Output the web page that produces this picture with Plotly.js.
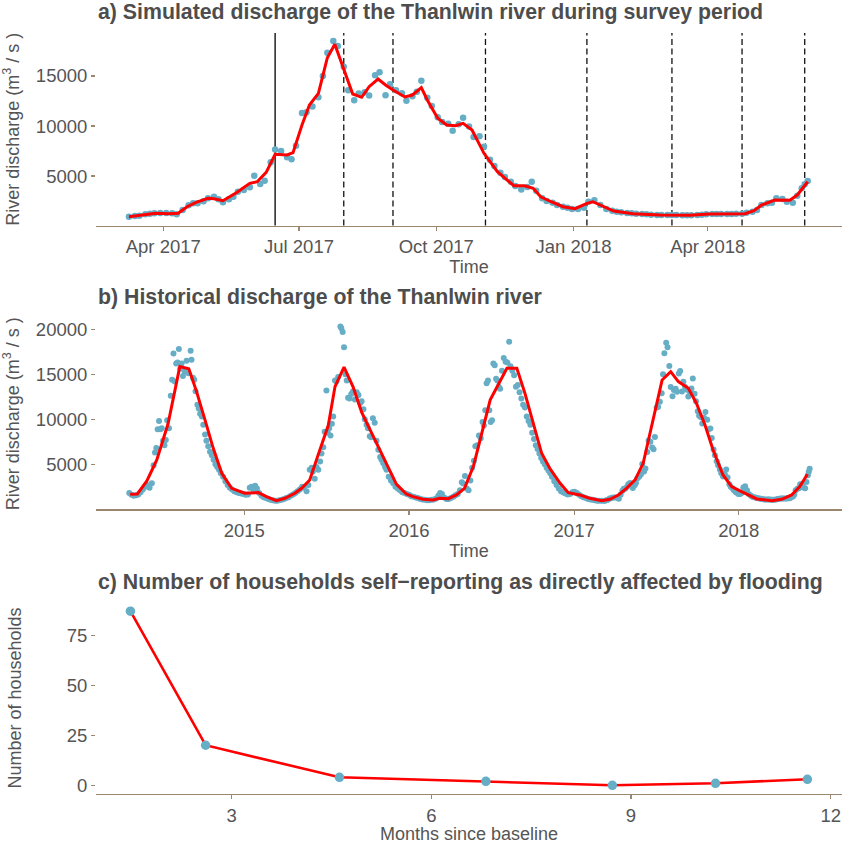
<!DOCTYPE html>
<html><head><meta charset="utf-8">
<script src="https://cdn.plot.ly/plotly-3.0.1.min.js"></script>
<style>html,body{margin:0;padding:0;background:#fff}#chart{width:843px;height:844px}</style>
</head><body><div id="chart"></div>
<script>
// ---- Panel a: simulated discharge during survey period ----
const simDates = ['2017-03-09','2017-03-13','2017-03-16','2017-03-20','2017-03-23','2017-03-26','2017-03-30','2017-04-03','2017-04-07','2017-04-10',
'2017-04-14','2017-04-18','2017-04-21','2017-04-24','2017-04-28','2017-05-01','2017-05-05','2017-05-08','2017-05-11','2017-05-15',
'2017-05-18','2017-05-21','2017-05-25','2017-05-29','2017-06-01','2017-06-05','2017-06-08','2017-06-12','2017-06-15','2017-06-19',
'2017-06-23','2017-06-26','2017-06-29','2017-07-03','2017-07-06','2017-07-10','2017-07-14','2017-07-17','2017-07-20','2017-07-24',
'2017-07-27','2017-07-31','2017-08-03','2017-08-07','2017-08-10','2017-08-14','2017-08-17','2017-08-21','2017-08-24','2017-08-28',
'2017-08-31','2017-09-04','2017-09-08','2017-09-11','2017-09-15','2017-09-18','2017-09-21','2017-09-25','2017-09-28','2017-10-02',
'2017-10-05','2017-10-09','2017-10-12','2017-10-16','2017-10-19','2017-10-23','2017-10-26','2017-10-30','2017-11-02','2017-11-06',
'2017-11-09','2017-11-13','2017-11-16','2017-11-20','2017-11-23','2017-11-27','2017-12-01','2017-12-04','2017-12-07','2017-12-11',
'2017-12-14','2017-12-18','2017-12-21','2017-12-25','2017-12-28','2017-12-31','2018-01-04','2018-01-08','2018-01-11','2018-01-15',
'2018-01-19','2018-01-23','2018-01-27','2018-01-30','2018-02-02','2018-02-06','2018-02-09','2018-02-12','2018-02-16','2018-02-19',
'2018-02-22','2018-02-26','2018-03-01','2018-03-05','2018-03-08','2018-03-11','2018-03-15','2018-03-18','2018-03-21','2018-03-25',
'2018-03-28','2018-03-31','2018-04-04','2018-04-07','2018-04-10','2018-04-14','2018-04-17','2018-04-20','2018-04-24','2018-04-27',
'2018-05-01','2018-05-04','2018-05-07','2018-05-11','2018-05-14','2018-05-17','2018-05-21','2018-05-24','2018-05-28','2018-05-31',
'2018-06-03','2018-06-05','2018-06-07'];
const simValues = [930,1000,1030,1170,1230,1270,1300,1300,1270,1170,
1600,2070,2270,2270,2470,2770,2930,2670,2370,2670,
2930,3430,3600,3870,5030,4200,4530,6370,7650,7500,
6870,6670,8030,11300,11370,11950,12880,15000,17320,18500,
18000,15930,13570,12570,13250,13380,13050,15080,15370,13080,
14170,13570,13270,12520,12980,13430,14530,12830,12000,10880,
10400,10230,9530,10180,10820,9950,8900,8970,7930,6630,
6000,5330,4900,4430,4000,3650,3900,4430,3530,2770,
2500,2330,2100,1930,1830,1700,1700,1830,2430,2570,
2100,1700,1530,1430,1370,1300,1270,1230,1200,1170,
1130,1100,1100,1100,1100,1100,1070,1070,1070,1100,
1130,1170,1200,1200,1200,1200,1200,1230,1230,1330,
1430,1600,2100,2270,2330,2770,2700,2430,2330,3030,
3770,4170,4500];
const simLineDates = ['2017-03-09','2017-03-20','2017-03-27','2017-04-05','2017-04-11','2017-04-17','2017-04-23','2017-05-01','2017-05-05','2017-05-11',
'2017-05-20','2017-05-29','2017-06-03','2017-06-09','2017-06-15','2017-06-23','2017-06-27','2017-07-03','2017-07-08','2017-07-14',
'2017-07-20','2017-07-25','2017-07-31','2017-08-06','2017-08-12','2017-08-17','2017-08-23','2017-08-28','2017-09-02','2017-09-10',
'2017-09-15','2017-09-21','2017-09-25','2017-10-02','2017-10-08','2017-10-14','2017-10-19','2017-10-25','2017-11-02','2017-11-11',
'2017-11-22','2017-11-29','2017-12-05','2017-12-10','2017-12-17','2017-12-25','2018-01-02','2018-01-10','2018-01-14','2018-01-22',
'2018-01-28','2018-02-10','2018-02-28','2018-03-20','2018-04-02','2018-04-26','2018-05-02','2018-05-07','2018-05-16','2018-05-26',
'2018-05-31','2018-06-07'];
const simLineValues = [930,1170,1270,1230,1270,1930,2370,2770,2730,2530,
3330,4270,4430,5370,7170,7100,7330,10100,12100,13270,
16830,18170,15670,13200,12870,13930,14700,14100,13600,12900,
13100,13830,12600,10770,10100,10030,10270,9600,7270,5430,
4030,4030,3770,2930,2430,1930,1730,2270,2430,1900,
1500,1230,1100,1070,1200,1230,1530,2100,2600,2570,
3100,4430];
const surveyStart = ['2017-06-15'];
const surveyDates = ['2017-07-31','2017-09-02','2017-11-03','2018-01-10','2018-03-08','2018-04-24','2018-06-05'];
const simTickVals = ['2017-04-01','2017-07-01','2017-10-01','2018-01-01','2018-04-01'];
const simTickText = ['Apr 2017','Jul 2017','Oct 2017','Jan 2018','Apr 2018'];

// ---- Panel b: historical discharge (before the simulated period) ----
const histDates = ['2014-04-21','2014-04-26','2014-05-01','2014-05-06','2014-05-11','2014-05-16','2014-05-21','2014-05-26','2014-05-31','2014-06-05',
'2014-06-10','2014-06-14','2014-06-17','2014-06-20','2014-06-23','2014-06-26','2014-06-29','2014-07-02','2014-07-05','2014-07-08',
'2014-07-11','2014-07-14','2014-07-18','2014-07-22','2014-07-25','2014-07-28','2014-07-31','2014-08-03','2014-08-06','2014-08-09',
'2014-08-12','2014-08-15','2014-08-18','2014-08-22','2014-08-26','2014-08-30','2014-09-04','2014-09-06','2014-09-09','2014-09-12',
'2014-09-15','2014-09-19','2014-09-22','2014-09-25','2014-09-29','2014-10-02','2014-10-06','2014-10-09','2014-10-13','2014-10-17',
'2014-10-21','2014-10-25','2014-10-29','2014-11-02','2014-11-06','2014-11-10','2014-11-15','2014-11-20','2014-11-25','2014-11-30',
'2014-12-05','2014-12-10','2014-12-15','2014-12-20','2014-12-25','2014-12-30',
'2015-01-04','2015-01-09','2015-01-13','2015-01-17','2015-01-21','2015-01-25','2015-01-29','2015-02-03','2015-02-08','2015-02-13',
'2015-02-18','2015-02-23','2015-02-28','2015-03-05','2015-03-10','2015-03-15','2015-03-20','2015-03-25','2015-03-30','2015-04-04',
'2015-04-09','2015-04-14','2015-04-19','2015-04-24','2015-04-29','2015-05-04','2015-05-09','2015-05-13','2015-05-19','2015-05-23',
'2015-05-26','2015-05-30','2015-06-02','2015-06-06','2015-06-10','2015-06-14','2015-06-18','2015-06-21','2015-06-25','2015-06-28',
'2015-07-02','2015-07-05','2015-07-08','2015-07-11','2015-07-14','2015-07-17','2015-07-21','2015-07-24','2015-07-28','2015-08-02',
'2015-08-04','2015-08-07','2015-08-10','2015-08-13','2015-08-16','2015-08-19','2015-08-22','2015-08-26','2015-08-30','2015-09-03',
'2015-09-07','2015-09-11','2015-09-15','2015-09-18','2015-09-22','2015-09-25','2015-09-29','2015-10-02','2015-10-06','2015-10-09',
'2015-10-13','2015-10-17','2015-10-21','2015-10-25','2015-10-29','2015-11-01','2015-11-05','2015-11-09','2015-11-12','2015-11-17',
'2015-11-22','2015-11-27','2015-12-02','2015-12-07','2015-12-12','2015-12-17','2015-12-22','2015-12-27',
'2016-01-01','2016-01-06','2016-01-11','2016-01-16','2016-01-21','2016-01-26','2016-01-31','2016-02-05','2016-02-10','2016-02-15',
'2016-02-20','2016-02-25','2016-03-01','2016-03-06','2016-03-10','2016-03-14','2016-03-19','2016-03-24','2016-03-29','2016-04-03',
'2016-04-08','2016-04-13','2016-04-18','2016-04-23','2016-04-27','2016-04-30','2016-05-04','2016-05-08','2016-05-12','2016-05-16',
'2016-05-20','2016-05-24','2016-05-27','2016-05-31','2016-06-04','2016-06-08','2016-06-12','2016-06-15','2016-06-18','2016-06-21',
'2016-06-24','2016-06-27','2016-06-30','2016-07-03','2016-07-06','2016-07-09','2016-07-12','2016-07-15','2016-07-18','2016-07-21',
'2016-07-25','2016-07-29','2016-08-02','2016-08-06','2016-08-10','2016-08-13','2016-08-17','2016-08-21','2016-08-25','2016-08-29',
'2016-09-02','2016-09-06','2016-09-10','2016-09-14','2016-09-18','2016-09-22','2016-09-26','2016-09-30','2016-10-04','2016-10-08',
'2016-10-12','2016-10-16','2016-10-20','2016-10-24','2016-10-28','2016-11-01','2016-11-05','2016-11-09','2016-11-13','2016-11-18',
'2016-11-23','2016-11-28','2016-12-03','2016-12-08','2016-12-13','2016-12-18','2016-12-23','2016-12-28',
'2017-01-02','2017-01-07','2017-01-12','2017-01-17','2017-01-22','2017-01-27','2017-02-01','2017-02-06','2017-02-11','2017-02-16',
'2017-02-21','2017-02-26','2017-03-03'];
const histValues = [1800,1600,1500,1550,1650,1900,2200,2500,2700,2400,
2900,4900,6300,6800,8900,9800,8900,9000,7600,7100,
7700,9900,9000,12600,14400,17300,14200,16200,16300,17800,
15600,16200,14800,15300,16500,15100,17600,16600,14600,14400,
13100,11600,11200,10600,10300,9400,8300,7600,7000,6400,
6000,5500,5000,4700,4400,4000,3600,3100,2700,2400,
2200,2000,1900,1800,1750,1700,
1600,1650,2400,2500,2200,2600,2300,1800,1500,1350,
1250,1150,1050,1000,950,950,1000,1050,1150,1250,
1350,1500,1650,1800,2000,2200,2500,2400,2000,2700,
4400,4600,4200,3400,4700,4400,5300,6200,6900,8600,
13200,8500,9000,8200,9500,10300,14300,14200,14700,20300,
20100,19700,18000,15000,14300,12400,12300,12800,13100,12200,
13000,12700,11800,12000,11100,10000,9400,9000,8100,8000,
10100,9600,7600,6600,5800,5500,5100,4700,4400,3600,
3200,2900,2500,2300,2100,1900,1800,1700,
1600,1450,1400,1300,1250,1150,1100,1050,1000,1000,
1050,1100,1200,1500,1800,1700,1300,1150,1150,1250,
1400,1550,1700,2100,3000,2850,3700,2300,2100,3200,
4600,5400,7000,7100,8200,7900,9700,9300,11000,14000,
14300,11000,9700,9900,16200,16000,14500,14300,13600,13400,
15400,16800,16400,16300,18600,15900,15400,14900,13600,13800,
13000,12300,11600,11300,10300,9800,9400,8500,7800,7100,
6700,6200,5700,5300,5000,4600,4300,4000,3600,3100,
2700,2300,2000,1850,1750,1650,1700,1900,
1950,1800,1600,1450,1350,1250,1150,1100,1050,1000,
950,950,950];
const histLineDates = ['2014-04-23','2014-05-09','2014-05-30','2014-06-21','2014-07-16','2014-08-11','2014-08-31','2014-09-17','2014-10-06','2014-10-24',
'2014-11-12','2014-12-04','2015-01-02','2015-02-01','2015-02-19','2015-03-13','2015-04-01','2015-04-23','2015-05-08','2015-05-26',
'2015-06-14','2015-07-06','2015-07-21','2015-08-10','2015-08-30','2015-09-18','2015-10-06','2015-10-24','2015-11-15','2015-12-04',
'2015-12-26','2016-01-10','2016-02-01','2016-02-23','2016-03-09','2016-03-28','2016-04-15','2016-05-03','2016-05-23','2016-06-29',
'2016-08-05','2016-08-27','2016-09-14','2016-10-21','2016-11-08','2016-12-01','2016-12-19','2017-01-14','2017-02-05','2017-03-03',
'2017-03-21','2017-04-09','2017-04-27','2017-05-16','2017-06-03','2017-06-25','2017-07-15','2017-08-03','2017-08-20','2017-09-11',
'2017-09-29','2017-10-18','2017-11-05','2017-11-27','2017-12-16','2018-01-07','2018-01-22','2018-02-10','2018-03-15','2018-04-06',
'2018-04-28','2018-05-16','2018-06-02'];
const histLineValues = [1670,1700,3150,5480,9500,15850,15600,13100,9900,6800,
4000,2330,1780,1850,1410,960,1220,1780,2330,3260,
6100,9300,13630,15800,13600,10800,8900,7000,4800,2800,
1700,1410,1110,1040,1220,1180,1590,2330,4810,12150,
15660,15660,12880,6220,4550,2890,1850,1590,1220,960,
1110,1590,2330,3260,5110,9930,14370,15290,14190,13450,
11780,9370,6590,3810,2520,1960,1590,1150,960,1110,
1590,2520,3890];
const histTickVals = ['2015-01-01','2016-01-01','2017-01-01','2018-01-01'];
const histTickText = ['2015','2016','2017','2018'];

// ---- Panel c: households affected by flooding ----
const monthsSinceBaseline = [1.48, 2.61, 4.62, 6.82, 8.72, 10.27, 11.65];
const households = [87, 20, 4, 2, 0, 1, 3];

const discTicks = [5000, 10000, 15000];
const discTickText = ['5000', '10000', '15000'];
const histTicks = [5000, 10000, 15000, 20000];
const histTickText2 = ['5000', '10000', '15000', '20000'];
const hhTicks = [0, 25, 50, 75];
const hhTickText = ['0', '25', '50', '75'];
const monthTicks = [3, 6, 9, 12];
const monthTickText = ['3', '6', '9', '12'];

// ---- styling ----
const FONT = 'Liberation Sans, Arial, Helvetica, sans-serif';
const DOT = '#66adc6';
const RED = '#ff0000';
const AXC = '#9b8670';
const TXT = '#555555';

const traces = [
  {x: simDates, y: simValues, type: 'scatter', mode: 'markers', xaxis: 'x', yaxis: 'y',
   marker: {color: DOT, size: 6.5, line: {width: 0}}},
  {x: simLineDates, y: simLineValues, type: 'scatter', mode: 'lines', xaxis: 'x', yaxis: 'y',
   line: {color: RED, width: 3}},
  {x: histDates.concat(simDates), y: histValues.concat(simValues), type: 'scatter', mode: 'markers', xaxis: 'x2', yaxis: 'y2',
   marker: {color: DOT, size: 6, line: {width: 0}}},
  {x: histLineDates, y: histLineValues, type: 'scatter', mode: 'lines', xaxis: 'x2', yaxis: 'y2',
   line: {color: RED, width: 3}},
  {x: monthsSinceBaseline, y: households, type: 'scatter', mode: 'lines', xaxis: 'x3', yaxis: 'y3',
   line: {color: RED, width: 2.6}},
  {x: monthsSinceBaseline, y: households, type: 'scatter', mode: 'markers', xaxis: 'x3', yaxis: 'y3',
   marker: {color: DOT, size: 9.5, line: {width: 0}}}
];

const tickFont = {family: FONT, size: 18.5, color: TXT};
const axTitleFont = {family: FONT, size: 18, color: TXT};

function xAxis(extra) {
  return Object.assign({
    showline: true, linecolor: AXC, linewidth: 1.3, showgrid: false, zeroline: false,
    ticks: 'outside', ticklen: 4, tickwidth: 1.1, tickcolor: AXC, tickfont: tickFont,
    tickmode: 'array', fixedrange: true
  }, extra);
}
function yAxis(extra) {
  return Object.assign({
    showline: false, showgrid: false, zeroline: false,
    ticks: 'outside', ticklen: 4, tickwidth: 1.1, tickcolor: AXC, tickfont: tickFont,
    tickmode: 'array', fixedrange: true
  }, extra);
}

const shapes = surveyStart.map(d => ({
  type: 'line', xref: 'x', yref: 'y domain', x0: d, x1: d, y0: 0, y1: 1,
  line: {color: '#222222', width: 1.5}, layer: 'below'
})).concat(surveyDates.map(d => ({
  type: 'line', xref: 'x', yref: 'y domain', x0: d, x1: d, y0: 0, y1: 1,
  line: {color: '#111111', width: 1.3, dash: '6px,3.5px'}, layer: 'below'
})));

const titleFont = {family: FONT, size: 21.3, color: '#4d4d4d', weight: 'bold'};
const annotations = [
  {text: 'a) Simulated discharge of the Thanlwin river during survey period', xref: 'paper', yref: 'paper',
   x: 0, y: 1.0276, xanchor: 'left', yanchor: 'middle', showarrow: false, font: titleFont},
  {text: 'b) Historical discharge of the Thanlwin river', xref: 'paper', yref: 'paper',
   x: 0, y: 0.6536, xanchor: 'left', yanchor: 'middle', showarrow: false, font: titleFont},
  {text: 'c) Number of households self\u2212reporting as directly affected by flooding', xref: 'paper', yref: 'paper',
   x: 0, y: 0.2791, xanchor: 'left', yanchor: 'middle', showarrow: false, font: titleFont}
];

const layout = {
  width: 843, height: 844,
  margin: {l: 96, r: 1, t: 33, b: 50},
  paper_bgcolor: '#ffffff', plot_bgcolor: '#ffffff',
  showlegend: false, hovermode: false,
  font: {family: FONT, color: TXT},
  xaxis: xAxis({anchor: 'y', type: 'date', range: ['2017-02-14 22:00', '2018-06-30 00:00'],
    tickvals: simTickVals, ticktext: simTickText,
    title: {text: 'Time', font: axTitleFont, standoff: 3}}),
  yaxis: yAxis({anchor: 'x', domain: [0.7470, 1.0], range: [50, 19300], tickvals: discTicks, ticktext: discTickText,
    title: {text: 'River discharge (m<sup>3</sup> / s )', font: axTitleFont, standoff: 14}}),
  xaxis2: xAxis({anchor: 'y2', type: 'date', range: ['2014-02-06 07:00', '2018-08-17 16:00'],
    tickvals: histTickVals, ticktext: histTickText,
    title: {text: 'Time', font: axTitleFont, standoff: 4}}),
  yaxis2: yAxis({anchor: 'x2', domain: [0.3739, 0.6255], range: [-20, 21250], tickvals: histTicks, ticktext: histTickText2,
    title: {text: 'River discharge (m<sup>3</sup> / s )', font: axTitleFont, standoff: 14}}),
  xaxis3: xAxis({anchor: 'y3', range: [0.963, 12.17], tickvals: monthTicks, ticktext: monthTickText,
    title: {text: 'Months since baseline', font: axTitleFont, standoff: 5}}),
  yaxis3: yAxis({anchor: 'x3', domain: [0, 0.2523], range: [-4.36, 91.56], tickvals: hhTicks, ticktext: hhTickText,
    title: {text: 'Number of households', font: axTitleFont, standoff: 40}}),
  shapes: shapes,
  annotations: annotations
};

Plotly.newPlot('chart', traces, layout, {displayModeBar: false, staticPlot: true});
</script>
</body></html>
